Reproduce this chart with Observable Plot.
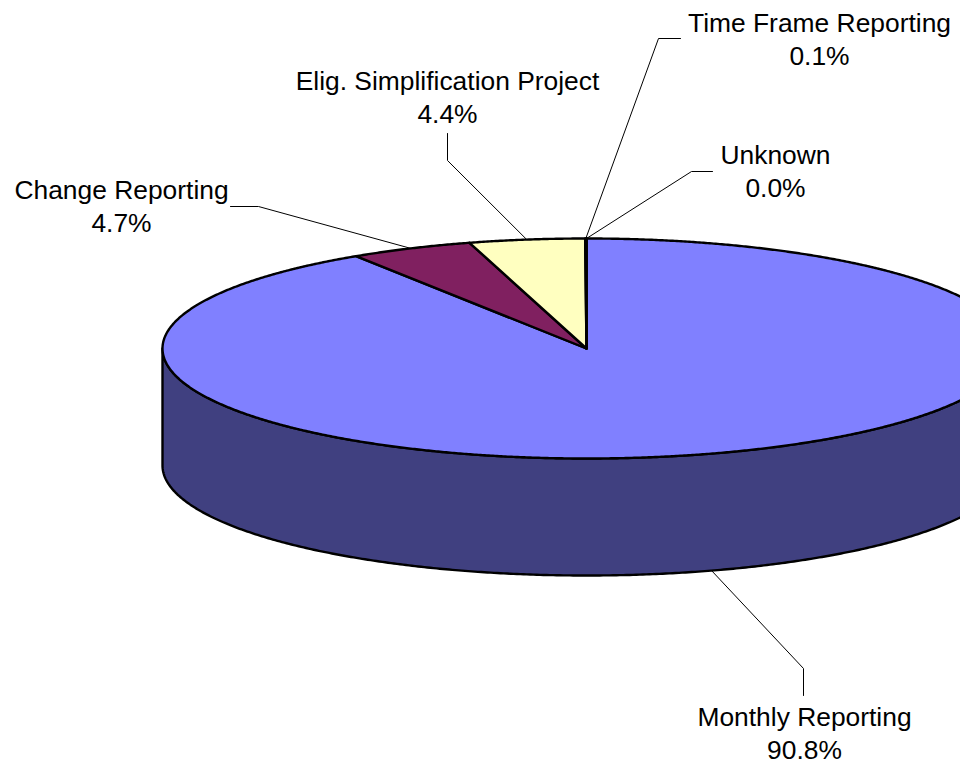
<!DOCTYPE html>
<html>
<head>
<meta charset="utf-8">
<script src="https://cdn.jsdelivr.net/npm/d3@7"></script>
<script src="https://cdn.jsdelivr.net/npm/@observablehq/plot@0.6"></script>
<style>html,body{margin:0;padding:0;background:#fff;overflow:hidden}svg{display:block}</style>
</head>
<body>
<div id="chart"></div>
<script>
// Data, clockwise from 12 o'clock. Shares are the slice sizes;
// shareLabels are the printed, rounded labels.
const categories = ["Monthly Reporting", "Change Reporting", "Elig. Simplification Project", "Time Frame Reporting", "Unknown"];
const shares = [90.85, 4.70, 4.40, 0.05, 0.00];
const shareLabels = ["90.8%", "4.7%", "4.4%", "0.1%", "0.0%"];
const sliceColors = ["#8080FF", "#802060", "#FFFFC0", "#A0E0E0", "#600080"];
const sideColor = "#404080";

// Pie projection
const cx = 586, cy = 348, rx = 424, ry = 110, depth = 117;
const total = d3.sum(shares);
const px = t => cx + rx * Math.sin(t);
const py = (t, dz = 0) => cy - ry * Math.cos(t) + dz;
const TAU = 2 * Math.PI;

let cum = 0;
const slices = categories.map((name, i) => {
  const a0 = cum / total * TAU;
  cum += shares[i];
  const a1 = cum / total * TAU;
  const n = Math.max(2, Math.ceil((a1 - a0) / 0.005));
  const arc = d3.range(n + 1).map(k => a0 + (a1 - a0) * k / n);
  const pts = [{x: cx, y: cy}, ...arc.map(t => ({x: px(t), y: py(t)})), {x: cx, y: cy}];
  return {name, color: sliceColors[i], pts, a0, a1, mid: (a0 + a1) / 2};
});

// Visible wall: lower half of the rim, extruded downward
const rim = d3.range(0, 401).map(k => Math.PI / 2 + Math.PI * k / 400);
const wall = [
  ...rim.map(t => ({x: px(t), y: py(t)})),
  ...rim.slice().reverse().map(t => ({x: px(t), y: py(t, depth)})),
  {x: px(rim[0]), y: py(rim[0])}
];

// Label layout: elbow of the leader, end of the leader, centre of the text block
const layout = [
  {elbow: [803, 668], end: [803, 695], text: [804, 731], wall: true, nudge: -0.012},
  {elbow: [258, 206], end: [230, 206], text: [121, 204]},
  {elbow: [447, 160], end: [447, 133], text: [447, 95]},
  {elbow: [658, 38], end: [680, 38], text: [819, 37]},
  {elbow: [691, 171], end: [712, 171], text: [775, 169]}
];
const leaders = layout.map((l, i) => {
  const t = slices[i].mid + (l.nudge || 0);
  return [
    {x: px(t), y: py(t, l.wall ? depth : 0)},
    {x: l.elbow[0], y: l.elbow[1]},
    {x: l.end[0], y: l.end[1]}
  ];
});
const labels = layout.map((l, i) => ({
  x: l.text[0], y: l.text[1], text: categories[i] + "\n" + shareLabels[i]
}));

const chart = Plot.plot({
  width: 960, height: 767,
  margin: 0,
  style: {background: "#fff"},
  x: {type: "linear", domain: [0, 960], range: [0, 960], axis: null},
  y: {type: "linear", domain: [0, 767], range: [0, 767], axis: null},
  marks: [
    Plot.line(wall, {x: "x", y: "y", fill: sideColor, stroke: "#000", strokeWidth: 2.4, strokeLinejoin: "round"}),
    ...slices.map(s => Plot.line(s.pts, {x: "x", y: "y", fill: s.color, stroke: "#000", strokeWidth: 2.4, strokeLinejoin: "round"})),
    ...leaders.map(l => Plot.line(l, {x: "x", y: "y", stroke: "#000", strokeWidth: 1})),
    Plot.text(labels, {
      x: "x", y: "y", text: "text",
      fontFamily: "Liberation Sans, Arial, sans-serif",
      fontSize: 26.4, lineHeight: 1.25, fill: "#000", textAnchor: "middle", lineAnchor: "middle"
    })
  ]
});
document.getElementById("chart").appendChild(chart);
</script>
</body>
</html>
